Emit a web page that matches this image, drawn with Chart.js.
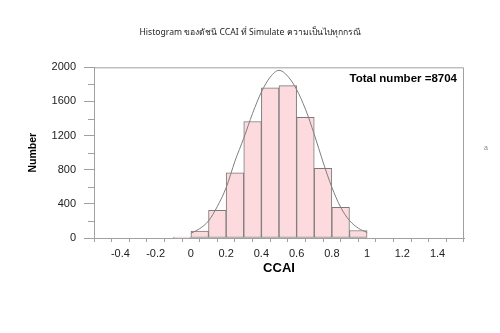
<!DOCTYPE html>
<html>
<head>
<meta charset="utf-8">
<script src="https://cdn.jsdelivr.net/npm/chart.js@4"></script>
<style>
  html, body { margin: 0; padding: 0; background: #fff; }
  #wrap { width: 500px; height: 333px; }
</style>
</head>
<body>
<div id="wrap"><canvas id="hist-chart" width="500" height="333"></canvas></div>
<script>
// histogram bins (centre of each 0.1 wide bin) and counts
var binCenters = [-0.05, 0.05, 0.15, 0.25, 0.35, 0.45, 0.55, 0.65, 0.75, 0.85, 0.95];
var binCounts = [12, 80, 325, 765, 1365, 1760, 1785, 1415, 815, 360, 88];

// fitted normal curve
var curveX = [0, 0.05, 0.1, 0.15, 0.2, 0.25, 0.3, 0.35, 0.4, 0.45, 0.5, 0.55, 0.6, 0.65, 0.7, 0.75, 0.8, 0.85, 0.9, 0.95, 1];
var curveY = [55, 110, 200, 370, 590, 900, 1170, 1460, 1710, 1885, 1965, 1895, 1740, 1510, 1215, 890, 595, 360, 205, 115, 65];

var xTickLabels = [-0.4, -0.2, 0, 0.2, 0.4, 0.6, 0.8, 1, 1.2, 1.4];
var yTickLabels = [0, 400, 800, 1200, 1600, 2000];
var totalNumber = 8704;

document.addEventListener("DOMContentLoaded", function() {
    var ctx = document.getElementById("hist-chart").getContext("2d");

    var histData = binCenters.map(function(c, i) { return { x: c, y: binCounts[i] }; });
    var curveData = curveX.map(function(c, i) { return { x: c, y: curveY[i] }; });

    // frame on top/right, short minor ticks on y, total count text
    var framePlugin = {
        id: "frame",
        afterDatasetsDraw: function(chart) {
            var a = chart.chartArea;
            var c = chart.ctx;
            var yScale = chart.scales.y;
            c.save();
            c.strokeStyle = "#a0a0a0";
            c.lineWidth = 1;
            c.beginPath();
            c.moveTo(a.left, a.top + 0.5);
            c.lineTo(a.right - 0.5, a.top + 0.5);
            c.lineTo(a.right - 0.5, a.bottom + 2);
            yScale.ticks.forEach(function(t) {
                if (yTickLabels.indexOf(t.value) < 0) {
                    var py = Math.round(yScale.getPixelForValue(t.value)) + 0.5;
                    c.moveTo(a.left - 6, py);
                    c.lineTo(a.left, py);
                }
            });
            c.stroke();

            c.fillStyle = "#000";
            c.font = "bold 11.5px 'Liberation Sans', Arial, sans-serif";
            c.textAlign = "right";
            c.textBaseline = "middle";
            c.fillText("Total number =" + totalNumber, a.right - 7, a.top + 11.5);

            c.fillStyle = "#888";
            c.font = "7px 'Liberation Sans', Arial, sans-serif";
            c.textAlign = "left";
            c.fillText("a", 484, 148);
            c.restore();
        }
    };

    new Chart(ctx, {
        data: {
            datasets: [
                {
                    type: "line",
                    data: curveData,
                    borderColor: "#7f7f7f",
                    borderWidth: 1,
                    pointRadius: 0,
                    fill: false,
                    cubicInterpolationMode: "monotone",
                    order: 0
                },
                {
                    type: "bar",
                    data: histData,
                    backgroundColor: "#fcdadd",
                    borderColor: "#7a7a7a",
                    borderWidth: 1,
                    borderSkipped: false,
                    barPercentage: 1,
                    categoryPercentage: 1,
                    order: 1
                }
            ]
        },
        options: {
            responsive: false,
            animation: false,
            layout: { padding: { left: 36, right: 36, top: 0, bottom: 0 } },
            plugins: {
                legend: { display: false },
                tooltip: { enabled: false },
                title: {
                    display: true,
                    text: "Histogram ของดัชนี CCAI ที่ Simulate ความเป็นไปทุกกรณี",
                    color: "#222",
                    font: { family: "Tahoma, 'Noto Sans', 'DejaVu Sans', sans-serif", size: 8.6, weight: "normal" },
                    padding: { top: 27, bottom: 30 }
                }
            },
            scales: {
                x: {
                    type: "linear",
                    min: -0.5,
                    max: 1.5,
                    afterFit: function(scale) { scale.height = 95; },
                    grid: { drawOnChartArea: false, drawTicks: true, tickLength: 4, color: "#a0a0a0" },
                    border: { display: true, color: "#a0a0a0" },
                    ticks: {
                        stepSize: 0.1,
                        autoSkip: false,
                        maxRotation: 0,
                        padding: 5,
                        color: "#222",
                        font: { family: "'Liberation Sans', Arial, sans-serif", size: 11 },
                        callback: function(v) {
                            var r = Math.round(v * 10) / 10;
                            return xTickLabels.indexOf(r) >= 0 ? String(r) : "";
                        }
                    },
                    title: {
                        display: true,
                        text: "CCAI",
                        color: "#000",
                        font: { family: "'Liberation Sans', Arial, sans-serif", size: 13, weight: "bold" },
                        padding: { top: 0, bottom: 57 }
                    }
                },
                y: {
                    min: 0,
                    max: 2000,
                    afterFit: function(scale) { scale.width = 58; },
                    grid: {
                        drawOnChartArea: false,
                        drawTicks: true,
                        tickLength: 10,
                        color: "#a0a0a0",
                        // minor ticks are drawn shorter by the frame plugin
                        tickColor: function(c) {
                            return c.tick && yTickLabels.indexOf(c.tick.value) >= 0 ? "#a0a0a0" : "rgba(0,0,0,0)";
                        }
                    },
                    border: { display: true, color: "#a0a0a0" },
                    ticks: {
                        stepSize: 200,
                        padding: 8,
                        color: "#222",
                        font: { family: "'Liberation Sans', Arial, sans-serif", size: 11 },
                        callback: function(v) {
                            return yTickLabels.indexOf(v) >= 0 ? String(v) : "";
                        }
                    },
                    title: {
                        display: true,
                        text: "Number",
                        color: "#000",
                        font: { family: "'Liberation Sans', Arial, sans-serif", size: 10.5, weight: "bold" },
                        padding: { top: -9, bottom: 0 }
                    }
                }
            }
        },
        plugins: [framePlugin]
    });
});
</script>
</body>
</html>
